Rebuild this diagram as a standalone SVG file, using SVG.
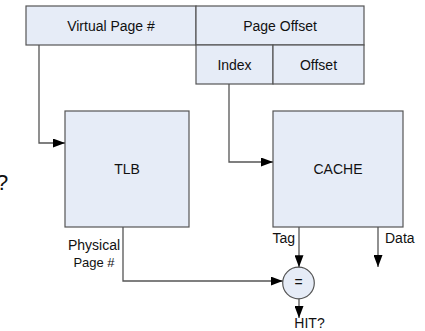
<svg xmlns="http://www.w3.org/2000/svg" width="425" height="331" viewBox="0 0 425 331">
<style>
.box{fill:#e6ecf7;stroke:#555;stroke-width:1.2}
.ln{fill:none;stroke:#555;stroke-width:1.3}
text{font-family:"Liberation Sans",Arial,sans-serif;font-size:14px;fill:#111}
.c{text-anchor:middle}
</style>
<defs>
<marker id="ah" markerWidth="12" markerHeight="9" refX="12" refY="4.5" orient="auto" markerUnits="userSpaceOnUse">
<path d="M0,0 L12,4.5 L0,9 Z" fill="#000"/>
</marker>
</defs>
<rect width="425" height="331" fill="#fff"/>
<g id="vpn"><rect class="box" x="26" y="6" width="170" height="39"/><text class="c" x="111" y="31">Virtual Page #</text></g>
<g id="pageoffset"><rect class="box" x="196" y="6" width="168" height="39"/><text class="c" x="280" y="31">Page Offset</text></g>
<g id="index"><rect class="box" x="196" y="45" width="77" height="39"/><text class="c" x="234.5" y="70">Index</text></g>
<g id="offset"><rect class="box" x="273" y="45" width="91" height="39"/><text class="c" x="318.5" y="70">Offset</text></g>
<g id="tlb"><rect class="box" x="65" y="111" width="124" height="116"/><text class="c" x="127" y="174">TLB</text></g>
<g id="cache"><rect class="box" x="273" y="111" width="130" height="116"/><text class="c" x="338" y="174">CACHE</text></g>
<g id="cmp"><circle class="box" cx="298.5" cy="283" r="15.8"/><text class="c" x="298.5" y="287">=</text></g>
<g id="connectors">
<path class="ln" d="M39,45 V143 H65" marker-end="url(#ah)"/>
<path class="ln" d="M229,84 V162 H273" marker-end="url(#ah)"/>
<path class="ln" d="M123,227 V281 H282.7" marker-end="url(#ah)"/>
<path class="ln" d="M299,227 V267.2" marker-end="url(#ah)"/>
<path class="ln" d="M378,227 V267" marker-end="url(#ah)"/>
<path class="ln" d="M299,298.8 V318" marker-end="url(#ah)"/>
</g>
<g id="labels">
<text x="272.5" y="243">Tag</text>
<text x="385" y="243">Data</text>
<text class="c" x="94" y="250">Physical</text>
<text class="c" x="94" y="267" style="font-size:13px">Page #</text>
<text class="c" x="309.5" y="328">HIT?</text>
<text x="-4" y="190" style="font-size:22px">?</text>
</g>
</svg>
